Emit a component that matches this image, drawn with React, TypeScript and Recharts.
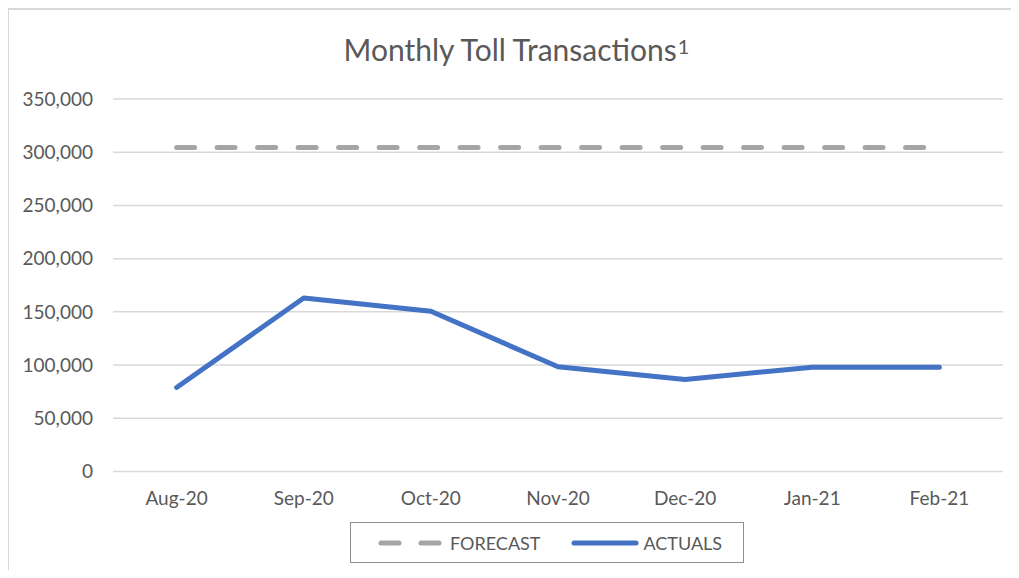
import React from 'react';
import { LineChart, Line, XAxis, YAxis, CartesianGrid } from 'recharts';

const months = ['Aug-20', 'Sep-20', 'Oct-20', 'Nov-20', 'Dec-20', 'Jan-21', 'Feb-21'];
const forecast = [304500, 304500, 304500, 304500, 304500, 304500, 304500];
const actuals = [79000, 163000, 150500, 98500, 86500, 98000, 98000];
const yTicks = [0, 50000, 100000, 150000, 200000, 250000, 300000, 350000];

const rows = months.map((m, i) => ({ month: m, forecast: forecast[i], actuals: actuals[i] }));

const FONT = 'Lato, "Open Sans", sans-serif';
const TEXT = '#595959';
const FORECAST_COLOR = '#a5a5a5';
const ACTUALS_COLOR = '#4472c4';

export default function App() {
  const tick = { fontFamily: FONT, fontSize: 19, fill: TEXT };

  return (
    <div style={{ position: 'relative', width: 1011, height: 562, fontFamily: FONT, overflow: 'hidden' }}>
      {/* chart frame: only top/left edges are visible in the original crop */}
      <div
        style={{
          position: 'absolute', left: -1, top: 0, width: 1030, height: 580,
          borderTop: '2px solid #d9d9d9', borderLeft: '2px solid #d9d9d9', boxSizing: 'border-box',
        }}
      />

      <div
        style={{
          position: 'absolute', left: -2, top: 23, width: 1021, textAlign: 'center',
          fontSize: 30, lineHeight: '36px', color: TEXT,
        }}
      >
        Monthly Toll Transactions<sup style={{ fontSize: 20, verticalAlign: 'top', position: 'relative', top: -3, marginLeft: 1 }}>1</sup>
      </div>

      <LineChart width={1011} height={562} data={rows} margin={{ top: 91, right: 16, bottom: 58.5, left: 0 }}>
        <CartesianGrid vertical={false} stroke="#d9d9d9" strokeWidth={1.5} />
        <XAxis
          dataKey="month"
          height={40}
          axisLine={false}
          tickLine={false}
          tickSize={0}
          tickMargin={20}
          padding={{ left: 63.6, right: 63.6 }}
          tick={tick}
          interval={0}
        />
        <YAxis
          width={105}
          domain={[0, 350000]}
          ticks={yTicks}
          axisLine={false}
          tickLine={false}
          tickSize={0}
          tickMargin={20}
          tick={tick}
          tickFormatter={(v: number) => v.toLocaleString('en-US')}
        />
        <Line
          type="linear"
          dataKey="forecast"
          name="FORECAST"
          stroke={FORECAST_COLOR}
          strokeWidth={5}
          strokeDasharray="18 22.5"
          strokeLinecap="round"
          dot={false}
          activeDot={false}
          isAnimationActive={false}
        />
        <Line
          type="linear"
          dataKey="actuals"
          name="ACTUALS"
          stroke={ACTUALS_COLOR}
          strokeWidth={5}
          strokeLinecap="round"
          strokeLinejoin="round"
          dot={false}
          activeDot={false}
          isAnimationActive={false}
        />
      </LineChart>

      {/* legend box */}
      <div
        style={{
          position: 'absolute', left: 342, top: 514, width: 394, height: 41, boxSizing: 'border-box',
          border: '1.5px solid #8f8f8f', display: 'flex', alignItems: 'center',
          paddingLeft: 26, fontSize: 18, color: TEXT,
        }}
      >
        <svg width={66} height={10} style={{ marginRight: 7 }}>
          <line x1={4} y1={5} x2={62} y2={5} stroke={FORECAST_COLOR} strokeWidth={5} strokeLinecap="round" strokeDasharray="18 22" />
        </svg>
        <span>FORECAST</span>
        <svg width={68} height={10} style={{ marginLeft: 31, marginRight: 4 }}>
          <line x1={3} y1={5} x2={65} y2={5} stroke={ACTUALS_COLOR} strokeWidth={5} strokeLinecap="round" />
        </svg>
        <span>ACTUALS</span>
      </div>
    </div>
  );
}
